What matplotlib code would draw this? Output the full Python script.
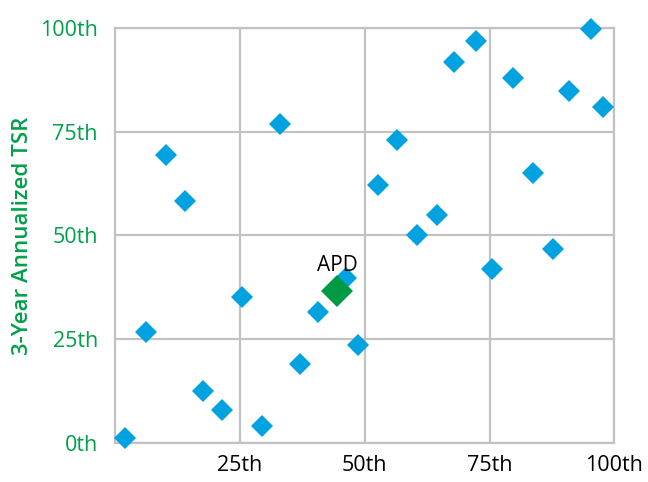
import matplotlib.pyplot as plt

# Peer percentile ranks: x = relative rank, y = 3-year annualized TSR rank
peer_x = [1.9, 6.1, 10.1, 14.0, 17.6, 21.4, 25.4, 29.4, 33.0, 37.0, 40.6, 46.3,
          48.7, 52.7, 56.5, 60.4, 64.4, 67.9, 72.2, 75.5, 79.7, 83.7, 87.7,
          90.9, 95.4, 97.8]
peer_y = [1.1, 26.8, 69.4, 58.4, 12.6, 8.0, 35.1, 4.2, 76.9, 19.1, 31.6, 39.7,
          23.6, 62.2, 73.0, 50.2, 54.9, 91.9, 96.9, 41.9, 88.0, 65.1, 46.7,
          84.9, 99.8, 81.0]

apd_x = 44.5
apd_y = 36.6
apd_label = "APD"

ticks = [0, 25, 50, 75, 100]
tick_labels = ["0th", "25th", "50th", "75th", "100th"]

green = "#00A04A"
blue = "#00A3E0"
grid_col = "#C2C2C2"

plt.rcParams['font.family'] = ['Open Sans', 'DejaVu Sans']

fig = plt.figure(figsize=(6.48, 4.82), dpi=100)
ax = fig.add_axes([0.178, 0.081, 0.770, 0.861])

ax.plot(peer_x, peer_y, 'D', color=blue, markersize=11.7, markeredgewidth=0,
        zorder=3, clip_on=False)
ax.plot([apd_x], [apd_y], 'D', color="#009A44", markersize=15.8,
        markeredgewidth=0, zorder=4, clip_on=False)
ax.annotate(apd_label, (apd_x, apd_y), xytext=(0, 11), textcoords='offset points',
            ha='center', va='bottom', fontsize=15, color='black', zorder=5)

ax.set_xlim(0, 100)
ax.set_ylim(0, 100)
ax.set_xticks(ticks[1:])
ax.set_xticklabels(tick_labels[1:])
ax.set_yticks(ticks)
ax.set_yticklabels(tick_labels)

ax.grid(True, color=grid_col, linewidth=1.6, zorder=0)
ax.set_axisbelow(True)
for s in ax.spines.values():
    s.set_color(grid_col)
    s.set_linewidth(1.6)

ax.tick_params(length=0)
ax.tick_params(axis='x', pad=9, labelsize=15.5, labelcolor='black')
ax.tick_params(axis='y', pad=12.5, labelsize=15.5, labelcolor=green)

ax.set_ylabel("3-Year Annualized TSR", color=green, fontsize=16,
              fontweight='semibold', labelpad=5)

fig.savefig("out.png", dpi=100)
